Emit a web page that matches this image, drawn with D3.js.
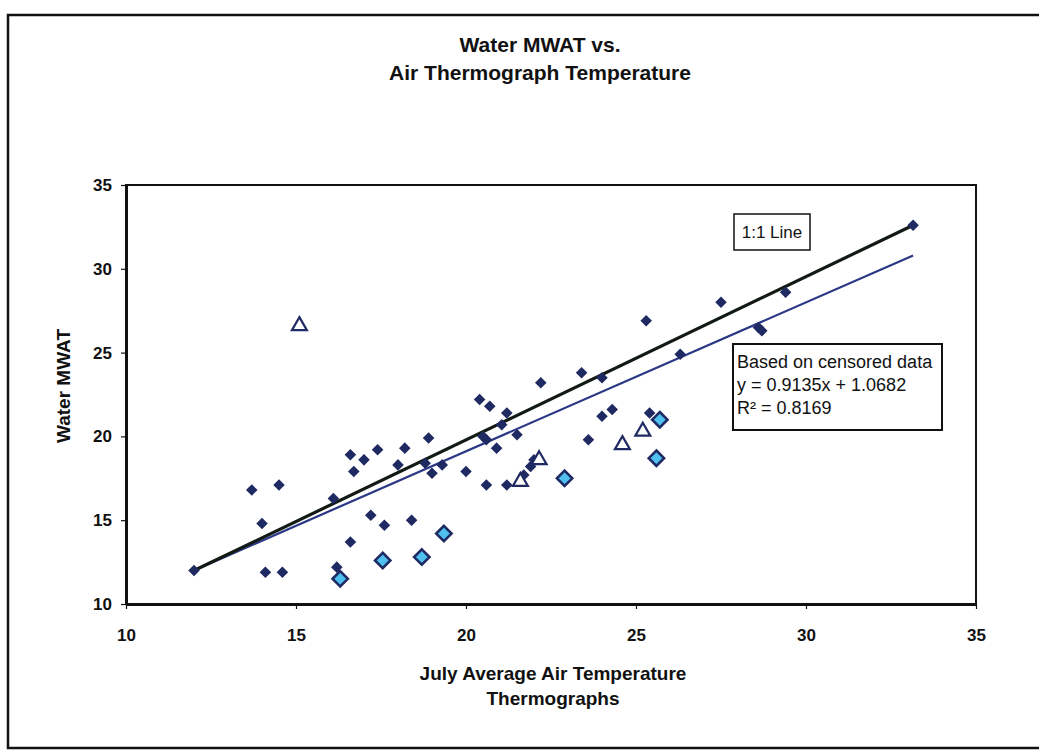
<!DOCTYPE html>
<html lang="en">
<head>
<meta charset="utf-8">
<title>Water MWAT vs. Air Thermograph Temperature</title>
<script src="https://cdn.jsdelivr.net/npm/d3@7"></script>
<style>
body { margin: 0; background: #fff; }
text { font-family: "Liberation Sans", Arial, sans-serif; }
</style>
</head>
<body>
<script>
// data
var xTicks = [10, 15, 20, 25, 30, 35];
var yTicks = [10, 15, 20, 25, 30, 35];

// measured sites (dark diamonds)
var sites = [
  [13.7, 16.8], [14.5, 17.1], [14.0, 14.8], [14.1, 11.9], [14.6, 11.9],
  [16.1, 16.3], [16.6, 18.9], [17.0, 18.6], [17.4, 19.2], [16.7, 17.9],
  [18.0, 18.3], [17.2, 15.3], [17.6, 14.7], [16.6, 13.7], [16.2, 12.2],
  [18.4, 15.0], [18.9, 19.9], [18.2, 19.3], [18.8, 18.4], [19.0, 17.8],
  [19.3, 18.3], [20.0, 17.9], [20.4, 22.2], [20.7, 21.8], [21.2, 21.4],
  [21.05, 20.7], [20.5, 20.0], [20.6, 19.8], [21.5, 20.1], [20.9, 19.3],
  [20.6, 17.1], [21.2, 17.1], [21.7, 17.7], [21.9, 18.2], [22.0, 18.6],
  [22.2, 23.2], [23.4, 23.8], [24.0, 23.5], [23.6, 19.8], [24.0, 21.2],
  [24.3, 21.6], [25.4, 21.4], [25.3, 26.9], [26.3, 24.9], [27.5, 28.0],
  [29.4, 28.6], [28.6, 26.5], [28.7, 26.3]
];
// light blue diamonds
var censored = [
  [16.3, 11.5], [17.55, 12.6], [18.7, 12.8], [19.35, 14.2],
  [22.9, 17.5], [25.7, 21.0], [25.6, 18.7]
];
// open triangles
var outliers = [
  [15.1, 26.6], [21.6, 17.3], [22.15, 18.6], [24.6, 19.5], [25.2, 20.3]
];
var oneToOne = [[12.0, 12.0], [33.15, 32.6]];
var trend = [[12.0, 12.0], [33.15, 30.8]];

var titleLines = ["Water MWAT vs.", "Air Thermograph Temperature"];
var xTitleLines = ["July Average Air Temperature", "Thermographs"];
var yTitle = "Water MWAT";
var eqLines = ["Based on censored data", "y = 0.9135x + 1.0682", "R\u00b2 = 0.8169"];

var w = 1039, h = 753;
var navy = "#1f2a63";

var svg = d3.select("body").append("svg")
  .attr("width", w)
  .attr("height", h);

// outer chart border
svg.append("rect")
  .attr("x", 8).attr("y", 15)
  .attr("width", 1040).attr("height", 733)
  .attr("fill", "none").attr("stroke", "#111").attr("stroke-width", 2.5);

var x = d3.scaleLinear().domain([10, 35]).range([126, 976]);
var y = d3.scaleLinear().domain([10, 35]).range([604, 185]);

// plot area frame
svg.append("rect")
  .attr("x", x(10)).attr("y", y(35))
  .attr("width", x(35) - x(10)).attr("height", y(10) - y(35))
  .attr("fill", "none").attr("stroke", "#111").attr("stroke-width", 2);

var xAxis = svg.append("g")
  .attr("transform", "translate(0," + y(10) + ")")
  .call(d3.axisBottom(x).tickValues(xTicks).tickSize(5).tickSizeOuter(0).tickPadding(20));
var yAxis = svg.append("g")
  .attr("transform", "translate(" + x(10) + ",0)")
  .call(d3.axisLeft(y).tickValues(yTicks).tickSize(5).tickSizeOuter(0).tickPadding(9));

[xAxis, yAxis].forEach(function(g) {
  g.select(".domain").attr("stroke", "#111").attr("stroke-width", 3);
  g.selectAll(".tick line").attr("stroke", "#111").attr("stroke-width", 1.2);
  g.selectAll(".tick text")
    .attr("fill", "#111")
    .style("font-size", "17px")
    .style("font-weight", "bold");
});

// lines
var line = d3.line()
  .x(function(d) { return x(d[0]); })
  .y(function(d) { return y(d[1]); });

svg.append("path").datum(trend)
  .attr("d", line).attr("fill", "none")
  .attr("stroke", "#2b3885").attr("stroke-width", 2.2);

svg.append("path").datum(oneToOne)
  .attr("d", line).attr("fill", "none")
  .attr("stroke", "#121a14").attr("stroke-width", 3.2);

var triangle = d3.symbol().type(d3.symbolTriangle2).size(160);

svg.append("g").selectAll("path")
  .data(oneToOne.concat(sites))
  .enter().append("path")
  .attr("transform", function(d) { return "translate(" + x(d[0]) + "," + y(d[1]) + ")"; })
  .attr("d", d3.symbol().type(d3.symbolDiamond2).size(85)())
  .attr("fill", navy);

svg.append("g").selectAll("path")
  .data(censored)
  .enter().append("path")
  .attr("transform", function(d) { return "translate(" + x(d[0]) + "," + y(d[1]) + ")"; })
  .attr("d", d3.symbol().type(d3.symbolDiamond2).size(150)())
  .attr("fill", "#4fc0ee")
  .attr("stroke", navy)
  .attr("stroke-width", 2.6);

svg.append("g").selectAll("path")
  .data(outliers)
  .enter().append("path")
  .attr("transform", function(d) { return "translate(" + x(d[0]) + "," + y(d[1]) + ")"; })
  .attr("d", triangle())
  .attr("fill", "#fff")
  .attr("stroke", navy)
  .attr("stroke-width", 2.2);

// 1:1 label box
svg.append("rect")
  .attr("x", 734).attr("y", 214).attr("width", 76).attr("height", 36)
  .attr("fill", "#fff").attr("stroke", "#111").attr("stroke-width", 1.5);
svg.append("text")
  .attr("x", 772).attr("y", 238)
  .attr("text-anchor", "middle")
  .style("font-size", "17px")
  .attr("fill", "#111")
  .text("1:1 Line");

// equation box
svg.append("rect")
  .attr("x", 733).attr("y", 344).attr("width", 209).attr("height", 86)
  .attr("fill", "#fff").attr("stroke", "#111").attr("stroke-width", 2);
svg.append("g").selectAll("text")
  .data(eqLines)
  .enter().append("text")
  .attr("x", 737)
  .attr("y", function(d, i) { return 368 + i * 23; })
  .style("font-size", "18px")
  .attr("fill", "#111")
  .text(function(d) { return d; });

// titles
svg.append("g").selectAll("text")
  .data(titleLines)
  .enter().append("text")
  .attr("x", 540)
  .attr("y", function(d, i) { return 52 + i * 28; })
  .attr("text-anchor", "middle")
  .style("font-size", "21px")
  .style("font-weight", "bold")
  .attr("fill", "#111")
  .text(function(d) { return d; });

svg.append("g").selectAll("text")
  .data(xTitleLines)
  .enter().append("text")
  .attr("x", 553)
  .attr("y", function(d, i) { return 680 + i * 25; })
  .attr("text-anchor", "middle")
  .style("font-size", "19px")
  .style("font-weight", "bold")
  .attr("fill", "#111")
  .text(function(d) { return d; });

svg.append("text")
  .attr("transform", "translate(70,386) rotate(-90)")
  .attr("text-anchor", "middle")
  .style("font-size", "19px")
  .style("font-weight", "bold")
  .attr("fill", "#111")
  .text(yTitle);
</script>
</body>
</html>
